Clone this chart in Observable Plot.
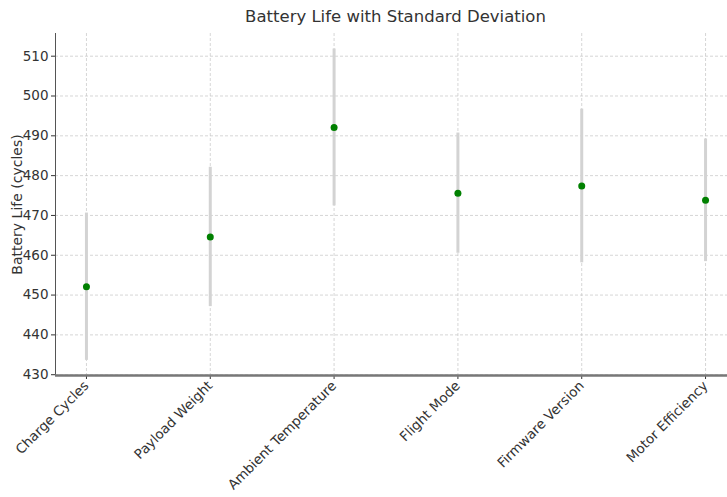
<!DOCTYPE html>
<html>
<head>
<meta charset="utf-8">
<script src="https://cdn.jsdelivr.net/npm/d3@7"></script>
<script src="https://cdn.jsdelivr.net/npm/@observablehq/plot@0.6"></script>
<style>
  body { margin: 0; background: #fff; font-family: "DejaVu Sans", sans-serif; }
  #wrap { position: relative; width: 727px; height: 497px; overflow: hidden; }
  #title { position: absolute; left: 0; top: 7px; width: 791px; text-align: center; font-size: 16.5px; color: #333; }
  #chart { position: absolute; left: 0; top: 33px; }
</style>
</head>
<body>
<div id="wrap">
  <div id="title">Battery Life with Standard Deviation</div>
  <div id="chart"></div>
</div>
<script>
const categories = ["Charge Cycles", "Payload Weight", "Ambient Temperature", "Flight Mode", "Firmware Version", "Motor Efficiency"];
const means = [452.1, 464.6, 492.1, 475.6, 477.4, 473.8];
const stds = [18.5, 17.5, 19.7, 15.1, 19.3, 15.4];
const yTicks = [430, 440, 450, 460, 470, 480, 490, 500, 510];
const yLabel = "Battery Life (cycles)";

const data = categories.map((c, i) => ({cat: c, mean: means[i], lo: means[i] - stds[i], hi: means[i] + stds[i]}));

const chart = Plot.plot({
  width: 727,
  height: 464,
  marginTop: 0,
  marginLeft: 55,
  marginRight: -9,
  marginBottom: 122,
  style: {fontFamily: "DejaVu Sans, sans-serif", fontSize: "13.5px", color: "#333", background: "#fff"},
  x: {type: "point", domain: categories, padding: 0.25, round: false, label: null},
  y: {domain: [429.8, 515.7], label: null},
  marks: [
    Plot.gridY(yTicks, {stroke: "#c4c4c4", strokeOpacity: 1, strokeDasharray: "3,2", strokeWidth: 0.7}),
    Plot.gridX(categories, {stroke: "#c4c4c4", strokeOpacity: 1, strokeDasharray: "3,2", strokeWidth: 0.7}),
    Plot.axisY(yTicks, {tickSize: 4, tickPadding: 3, label: null, fontSize: 13.5}),
    Plot.axisX({tickSize: 4, tickRotate: -45, tickPadding: 4, fontSize: 13.5, label: null}),
    Plot.text([yLabel], {frameAnchor: "left", textAnchor: "middle", rotate: -90, dx: -38, text: d => d, fontSize: 14, fill: "#333"}),
    Plot.ruleX(data, {x: "cat", y1: "lo", y2: "hi", stroke: "#d3d3d3", strokeWidth: 3}),
    Plot.dot(data, {x: "cat", y: "mean", fill: "#008000", r: 3.5}),
    Plot.frame({anchor: "left", stroke: "#555", strokeWidth: 1}),
    Plot.ruleY([429.8], {stroke: "#777", strokeWidth: 2.5})
  ]
});
document.getElementById("chart").appendChild(chart);
</script>
</body>
</html>
